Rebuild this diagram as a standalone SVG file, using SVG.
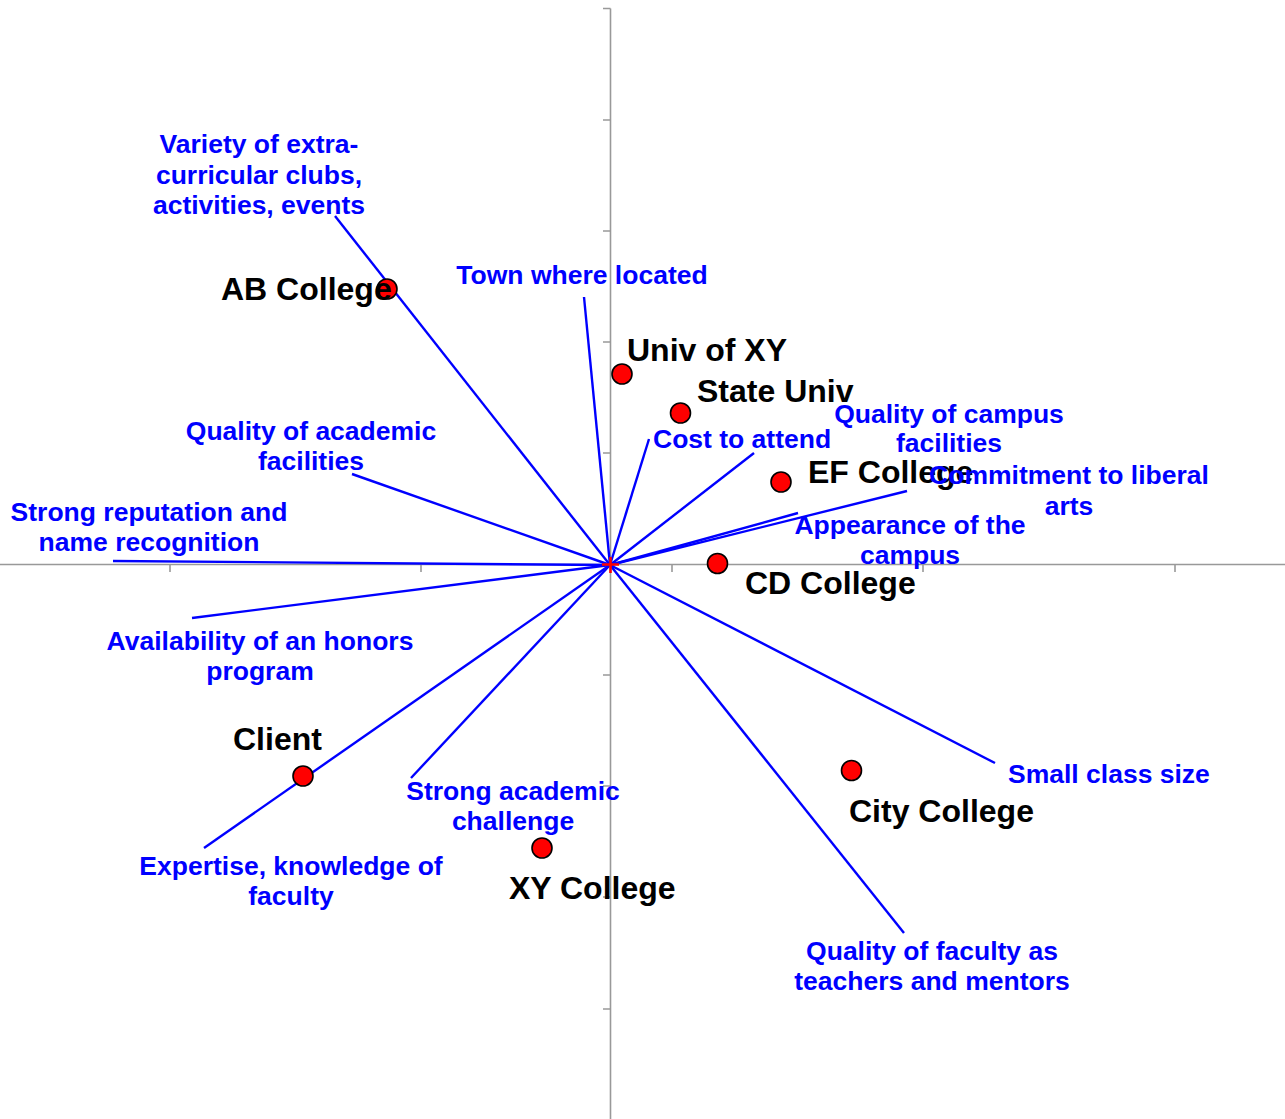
<svg xmlns="http://www.w3.org/2000/svg" width="1285" height="1119" viewBox="0 0 1285 1119">
<style>
.axis{stroke:#999999;stroke-width:1.6;fill:none}
.vec{stroke:#0000FF;stroke-width:2.4;fill:none}
.dot{fill:#FF0000;stroke:#000000;stroke-width:1.6}
.nl{font-family:"Liberation Sans",Arial,sans-serif;font-weight:bold;font-size:32px;fill:#000000}
.al{font-family:"Liberation Sans",Arial,sans-serif;font-weight:bold;font-size:26.5px;fill:#0000FF;text-anchor:middle}
.als{font-family:"Liberation Sans",Arial,sans-serif;font-weight:bold;font-size:26.5px;fill:#0000FF}
</style>
<rect width="1285" height="1119" fill="#ffffff"/>
<g id="axes">
<line class="axis" x1="0" y1="564.5" x2="1285" y2="564.5"/>
<line class="axis" x1="610.5" y1="8.5" x2="610.5" y2="1119"/>
<path class="axis" d="M603 8.5H610.5M603 120H610.5M603 231H610.5M603 342H610.5M603 453H610.5M603 675H610.5M603 786H610.5M603 897H610.5M603 1009H610.5"/>
<path class="axis" d="M170 564.5V572M421 564.5V572M672 564.5V572M923 564.5V572M1175 564.5V572"/>
</g>
<g id="connectors">
<line class="vec" x1="610" y1="565" x2="335" y2="216"/>
<line class="vec" x1="610" y1="565" x2="584" y2="297"/>
<line class="vec" x1="610" y1="565" x2="352" y2="474"/>
<line class="vec" x1="610" y1="565" x2="113" y2="561"/>
<line class="vec" x1="610" y1="565" x2="192" y2="618"/>
<line class="vec" x1="610" y1="565" x2="204" y2="848"/>
<line class="vec" x1="610" y1="565" x2="411" y2="778"/>
<line class="vec" x1="610" y1="565" x2="904" y2="933"/>
<line class="vec" x1="610" y1="565" x2="995" y2="763"/>
<line class="vec" x1="610" y1="565" x2="649" y2="439"/>
<line class="vec" x1="610" y1="565" x2="754" y2="453"/>
<line class="vec" x1="610" y1="565" x2="798" y2="513"/>
<line class="vec" x1="610" y1="565" x2="907" y2="491"/>
</g>
<g id="origin">
<path d="M602 564.5H619M610.5 557V573" stroke="#FF0000" stroke-width="2.6" fill="none"/>
</g>
<g id="node-ab-college">
<circle class="dot" cx="387" cy="289" r="10"/>
<text class="nl" x="221" y="300">AB College</text>
</g>
<g id="node-univ-of-xy">
<circle class="dot" cx="622" cy="374" r="10"/>
<text class="nl" x="627" y="361">Univ of XY</text>
</g>
<g id="node-state-univ">
<circle class="dot" cx="680.5" cy="413" r="10"/>
<text class="nl" x="697" y="402">State Univ</text>
</g>
<g id="node-ef-college">
<circle class="dot" cx="781" cy="482" r="10"/>
<text class="nl" x="808" y="483">EF College</text>
</g>
<g id="node-cd-college">
<circle class="dot" cx="717.5" cy="563.5" r="10"/>
<text class="nl" x="745" y="594">CD College</text>
</g>
<g id="node-client">
<circle class="dot" cx="303" cy="776" r="10"/>
<text class="nl" x="233" y="750">Client</text>
</g>
<g id="node-xy-college">
<circle class="dot" cx="542" cy="848" r="10"/>
<text class="nl" x="509" y="899">XY College</text>
</g>
<g id="node-city-college">
<circle class="dot" cx="851.5" cy="770.5" r="10"/>
<text class="nl" x="849" y="822">City College</text>
</g>
<g id="attr-variety">
<text class="al" x="259" y="153">Variety of extra-</text>
<text class="al" x="259" y="184">curricular clubs,</text>
<text class="al" x="259" y="214">activities, events</text>
</g>
<g id="attr-town">
<text class="al" x="582" y="284">Town where located</text>
</g>
<g id="attr-academic-facilities">
<text class="al" x="311" y="440">Quality of academic</text>
<text class="al" x="311" y="470">facilities</text>
</g>
<g id="attr-reputation">
<text class="al" x="149" y="521">Strong reputation and</text>
<text class="al" x="149" y="551">name recognition</text>
</g>
<g id="attr-honors">
<text class="al" x="260" y="650">Availability of an honors</text>
<text class="al" x="260" y="680">program</text>
</g>
<g id="attr-cost">
<text class="als" x="653" y="448">Cost to attend</text>
</g>
<g id="attr-campus-facilities">
<text class="al" x="949" y="423">Quality of campus</text>
<text class="al" x="949" y="452">facilities</text>
</g>
<g id="attr-liberal-arts">
<text class="al" x="1069" y="484">Commitment to liberal</text>
<text class="al" x="1069" y="515">arts</text>
</g>
<g id="attr-appearance">
<text class="al" x="910" y="534">Appearance of the</text>
<text class="al" x="910" y="564">campus</text>
</g>
<g id="attr-class-size">
<text class="als" x="1008" y="783">Small class size</text>
</g>
<g id="attr-academic-challenge">
<text class="al" x="513" y="800">Strong academic</text>
<text class="al" x="513" y="830">challenge</text>
</g>
<g id="attr-expertise">
<text class="al" x="291" y="875">Expertise, knowledge of</text>
<text class="al" x="291" y="905">faculty</text>
</g>
<g id="attr-faculty-mentors">
<text class="al" x="932" y="960">Quality of faculty as</text>
<text class="al" x="932" y="990">teachers and mentors</text>
</g>
</svg>
